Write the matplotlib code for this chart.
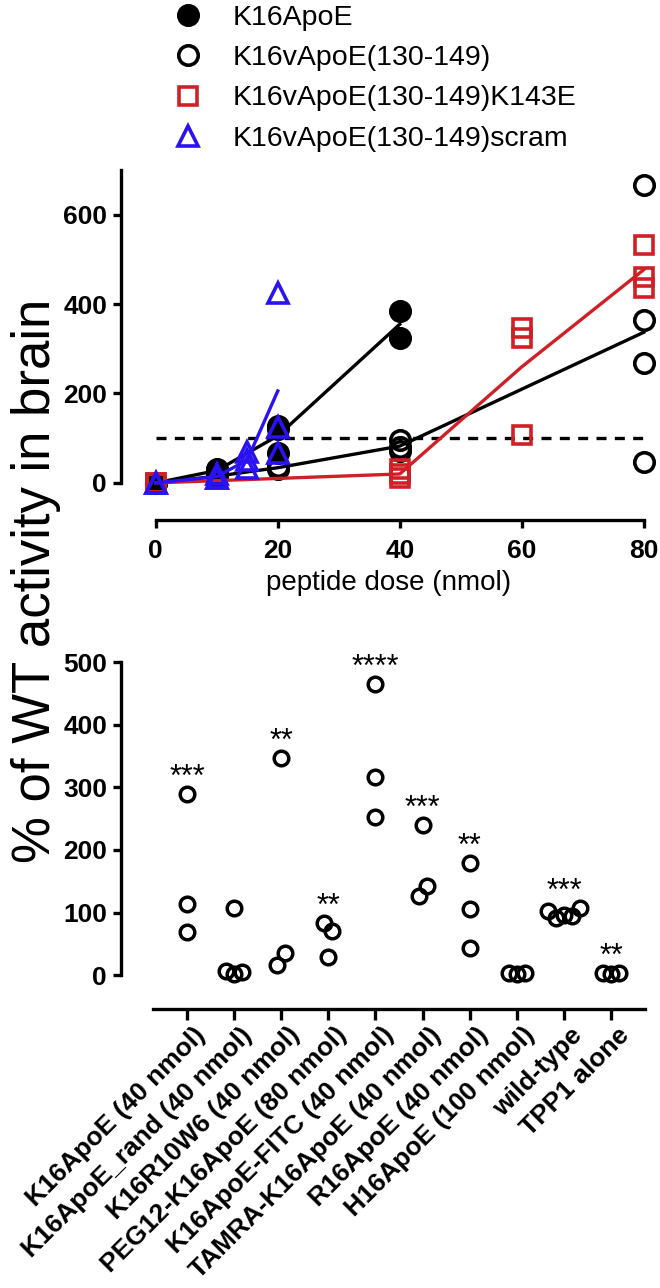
import matplotlib
matplotlib.use('Agg')
import matplotlib.pyplot as plt
import matplotlib.transforms as mtransforms
from matplotlib.lines import Line2D
import numpy as np

plt.rcParams['font.family'] = ['Liberation Sans', 'DejaVu Sans']

# ---- top panel: dose response ----
doses_k16 = [0, 10, 20, 40]
vals_k16 = [[0, 0], [30, 28, 25], [128, 120, 68], [385, 325]]

doses_v = [0, 10, 20, 40, 80]
vals_v = [[0, 0], [15], [30, 38], [95, 80, 72], [667, 365, 269, 47]]

doses_k143e = [0, 40, 60, 80]
vals_k143e = [[0, 0], [30, 20, 10], [347, 325, 107], [533, 461, 437]]

doses_scram = [0, 10, 15, 20]
vals_scram = [[0, 0], [20, 12, 10], [69, 51, 34], [425, 125, 67]]

legend_labels = ['K16ApoE', 'K16vApoE(130-149)', 'K16vApoE(130-149)K143E',
                 'K16vApoE(130-149)scram']

# ---- bottom panel: single doses ----
groups = ['K16ApoE (40 nmol)', 'K16ApoE_rand (40 nmol)', 'K16R10W6 (40 nmol)',
          'PEG12-K16ApoE (80 nmol)', 'K16ApoE-FITC (40 nmol)',
          'TAMRA-K16ApoE (40 nmol)', 'R16ApoE (40 nmol)', 'H16ApoE (100 nmol)',
          'wild-type', 'TPP1 alone']
group_vals = [[289, 113, 69], [107, 6, 2, 5], [347, 16, 36], [83, 70, 29],
              [465, 316, 252], [240, 127, 142], [179, 105, 43], [3, 2, 3],
              [103, 92, 96, 95, 107], [3, 2, 3]]
stars = ['***', '', '**', '**', '****', '***', '**', '', '***', '**']

RED = '#cf2027'
BLUE = '#2a12f2'

fig = plt.figure(figsize=(6.6, 12.88), dpi=100)
H = 1288.0
W = 660.0


def style_axes(ax):
	for s in ['top', 'right']:
		ax.spines[s].set_visible(False)
	for s in ['left', 'bottom']:
		ax.spines[s].set_linewidth(2.4)
	ax.tick_params(direction='out', length=6, width=2.4, labelsize=19, pad=4)


def plot_series(ax, doses, vals, marker, color, face, ms, z):
	means = [np.mean(v) for v in vals]
	ax.plot(doses, means, color=color, lw=2.4, zorder=z)
	for d, v in zip(doses, vals):
		ax.plot([d] * len(v), v, ls='none', marker=marker, ms=ms, mew=2.6,
			mec=color, mfc=face, zorder=z + 0.5, clip_on=False)


# top axes
ax1 = fig.add_axes([121 / W, (H - 520) / H, (656 - 121) / W, 350 / H])
style_axes(ax1)
ax1.set_xlim(-5.7, 82)
ax1.set_ylim(-83, 700)
ax1.spines['left'].set_bounds(0, 700)
ax1.spines['bottom'].set_bounds(0, 80)
ax1.set_xticks([0, 20, 40, 60, 80])
ax1.set_yticks([0, 200, 400, 600])
for lab in ax1.get_xticklabels() + ax1.get_yticklabels():
	lab.set_fontweight('bold')
ax1.tick_params(axis='x', pad=8)

ax1.plot([0, 80], [100, 100], color='black', lw=2.4, ls=(0, (3, 2.5)), zorder=1)

plot_series(ax1, doses_k16, vals_k16, 'o', 'black', 'black', 14, 2)
plot_series(ax1, doses_v, vals_v, 'o', 'black', 'none', 14, 3)
plot_series(ax1, doses_k143e, vals_k143e, 's', RED, 'none', 13.5, 4)
plot_series(ax1, doses_scram, vals_scram, '^', BLUE, 'none', 14, 5)

ax1.set_xlabel('peptide dose (nmol)', fontsize=20, labelpad=5)

handles = [
	Line2D([], [], ls='none', marker='o', ms=14, mew=2.6, mec='black', mfc='black'),
	Line2D([], [], ls='none', marker='o', ms=14, mew=2.6, mec='black', mfc='none'),
	Line2D([], [], ls='none', marker='s', ms=13.5, mew=2.6, mec=RED, mfc='none'),
	Line2D([], [], ls='none', marker='^', ms=14, mew=2.6, mec=BLUE, mfc='none'),
]
fig.legend(handles, legend_labels, loc='upper left',
	bbox_to_anchor=(176 / W, 1 - 5 / H), frameon=False, fontsize=20.5,
	handlelength=0.85, handletextpad=1.15, labelspacing=0.5,
	borderpad=0, borderaxespad=0)

# bottom axes
ax2 = fig.add_axes([121 / W, (H - 1009) / H, (645 - 121) / W, (1009 - 662) / H])
style_axes(ax2)
ax2.set_xlim(-1.4, 9.72)
ax2.set_ylim(-54, 500)
ax2.spines['left'].set_bounds(0, 500)
ax2.spines['bottom'].set_bounds(-0.72, 9.72)
ax2.set_yticks([0, 100, 200, 300, 400, 500])
ax2.set_xticks(range(len(groups)))
ax2.set_xticklabels(groups, rotation=45, ha='right', va='top',
	rotation_mode='anchor', fontsize=19, fontweight='bold')
for lab in ax2.get_yticklabels():
	lab.set_fontweight('bold')
ax2.tick_params(axis='x', length=8, pad=2)
shift = mtransforms.ScaledTranslation(6 / 100.0, 0, fig.dpi_scale_trans)
for lab in ax2.get_xticklabels():
	lab.set_transform(lab.get_transform() + shift)

# spread overlapping points sideways, like a scatter dot plot
px_per_unit_y = 347.0 / 554.0
px_per_cat = 47.1
diam = 15.0
step = 8.0 / px_per_cat


def spread(values):
	order = np.argsort(values)
	offs = np.zeros(len(values))
	clusters = [[order[0]]]
	for i in order[1:]:
		if (values[i] - values[clusters[-1][-1]]) * px_per_unit_y < diam:
			clusters[-1].append(i)
		else:
			clusters.append([i])
	for c in clusters:
		c = sorted(c)
		n = len(c)
		for k, i in enumerate(c):
			offs[i] = (k - (n - 1) / 2.0) * step
	return offs


for i, v in enumerate(group_vals):
	offs = spread(v)
	ax2.plot(i + offs, v, ls='none', marker='o', ms=10.5, mew=2.5,
		mec='black', mfc='none', clip_on=False)
	if stars[i]:
		ax2.annotate(stars[i], (i, max(v)), xytext=(0, 1), textcoords='offset points',
			ha='center', va='bottom', fontsize=22)

fig.text(36 / W, 1 - 581 / H, '% of WT activity in brain', rotation=90,
	ha='center', va='center', fontsize=38)

fig.savefig('out.png', dpi=100)
